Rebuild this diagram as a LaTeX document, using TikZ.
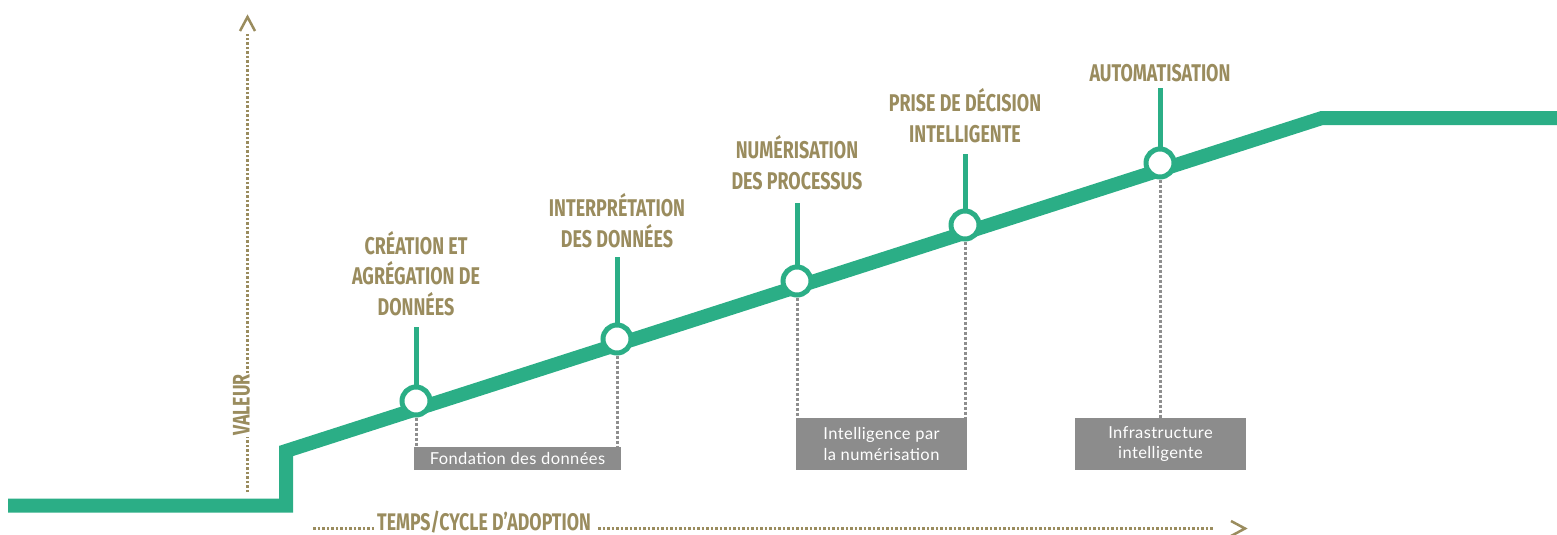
\documentclass[tikz,border=0pt]{standalone}
\usepackage{fontspec}
\newfontfamily\headfont[FakeStretch=0.74]{Fira Sans}
\newfontfamily\boxfont[LetterSpace=2.5]{Lato}
\definecolor{trackgreen}{HTML}{2BAE86}
\definecolor{khaki}{HTML}{9A8C5E}
\definecolor{boxgray}{HTML}{8C8C8C}
\definecolor{guidegray}{HTML}{8E8E8E}
\tikzset{
  track/.style={draw=trackgreen, line width=14pt, line join=miter},
  milestone/.style={circle, draw=trackgreen, line width=5pt, fill=white,
    minimum size=28pt, inner sep=0pt},
  stem/.style={draw=trackgreen, line width=5pt},
  guide/.style={draw=guidegray, line width=3pt, dash pattern=on 3pt off 2pt},
  phase/.style={fill=boxgray, text=white, inner sep=0pt, align=center,
    font=\boxfont\fontsize{16.5}{20.5}\selectfont},
  stage/.style={text=khaki, inner sep=0pt, align=center, anchor=south,
    font=\headfont\bfseries\fontsize{24.2}{30.5}\selectfont},
  axislabel/.style={text=khaki, inner sep=0pt,
    font=\headfont\bfseries\fontsize{24}{28}\selectfont},
  axisdots/.style={draw=khaki, line width=3pt, dash pattern=on 2.5pt off 2pt},
  axistip/.style={draw=khaki, line width=2.5pt, line join=miter}
}
\begin{document}
\begin{tikzpicture}[x=1pt,y=-1pt]
\useasboundingbox (0,0) rectangle (1557,535);

% value axis
\coordinate (vbot) at (247.5,492);
\coordinate (vtop) at (247.5,34);
\node[axislabel, rotate=90, anchor=base] (vlab) at (249.5,405) {VALEUR};
\draw[axisdots] (vbot) -- ([yshift=-1pt]vbot |- vlab.base west);
\draw[axisdots] ([yshift=1pt]vbot |- vlab.base east) -- (vtop);
\draw[axistip] (240,31) -- (247.5,17) -- (255,31);

% time axis
\coordinate (hl) at (313,528.5);
\coordinate (hr) at (1214,528.5);
\node[axislabel, anchor=base] (hlab) at (484,530) {TEMPS/CYCLE D’ADOPTION};
\draw[axisdots] (hl) -- ([xshift=-2pt]hlab.base west |- hl);
\draw[axisdots] ([xshift=7pt]hlab.base east |- hl) -- (hr);
\draw[axistip] (1231,521) -- (1245,528.5) -- (1231,536);

% adoption track
\coordinate (t0) at (8,505.5);
\coordinate (t1) at (286,505.5);
\coordinate (t2) at (286,451);
\coordinate (t3) at (1322,118);
\coordinate (t4) at (1557,118);
\draw[track] (t0) -- (t1) -- (t2) -- (t3) -- (t4);

% phase boxes
\node[phase, minimum width=207pt, minimum height=23pt] (p1) at (517.5,458.5) {Fondation des données};
\node[phase, minimum width=171pt, minimum height=52pt] (p2) at (881.5,444) {Intelligence par\\la numérisation};
\node[phase, minimum width=171pt, minimum height=52pt] (p3) at (1160.5,444) {Infrastructure\\intelligente};

% milestones
\node[milestone] (m1) at (416,401) {};
\node[milestone] (m2) at (617,339) {};
\node[milestone] (m3) at (797,281) {};
\node[milestone] (m4) at (965,225) {};
\node[milestone] (m5) at (1160,163) {};

% guides down to the phases
\draw[guide] (m1.south) -- (m1.south |- p1.north);
\draw[guide] (m2.south) -- (m2.south |- p1.north);
\draw[guide] (m3.south) -- (m3.south |- p2.north);
\draw[guide] (m4.south) -- (m4.south |- p2.north);
\draw[guide] (m5.south) -- (m5.south |- p3.north);

% stems and stage titles
\coordinate (s1) at (416,327);
\coordinate (s2) at (617,257);
\coordinate (s3) at (797,203);
\coordinate (s4) at (965,154);
\coordinate (s5) at (1160,88);
\draw[stem] (s1) -- (m1.north);
\draw[stem] (s2) -- (m2.north);
\draw[stem] (s3) -- (m3.north);
\draw[stem] (s4) -- (m4.north);
\draw[stem] (s5) -- (m5.north);

\node[stage] (h1) at (416,316) {CRÉATION ET\\AGRÉGATION DE\\DONNÉES};
\node[stage] (h2) at (617,248) {INTERPRÉTATION\\DES DONNÉES};
\node[stage] (h3) at (797,190) {NUMÉRISATION\\DES PROCESSUS};
\node[stage] (h4) at (965,143) {PRISE DE DÉCISION\\INTELLIGENTE};
\node[stage] (h5) at (1160,82) {AUTOMATISATION};
\end{tikzpicture}
\end{document}
